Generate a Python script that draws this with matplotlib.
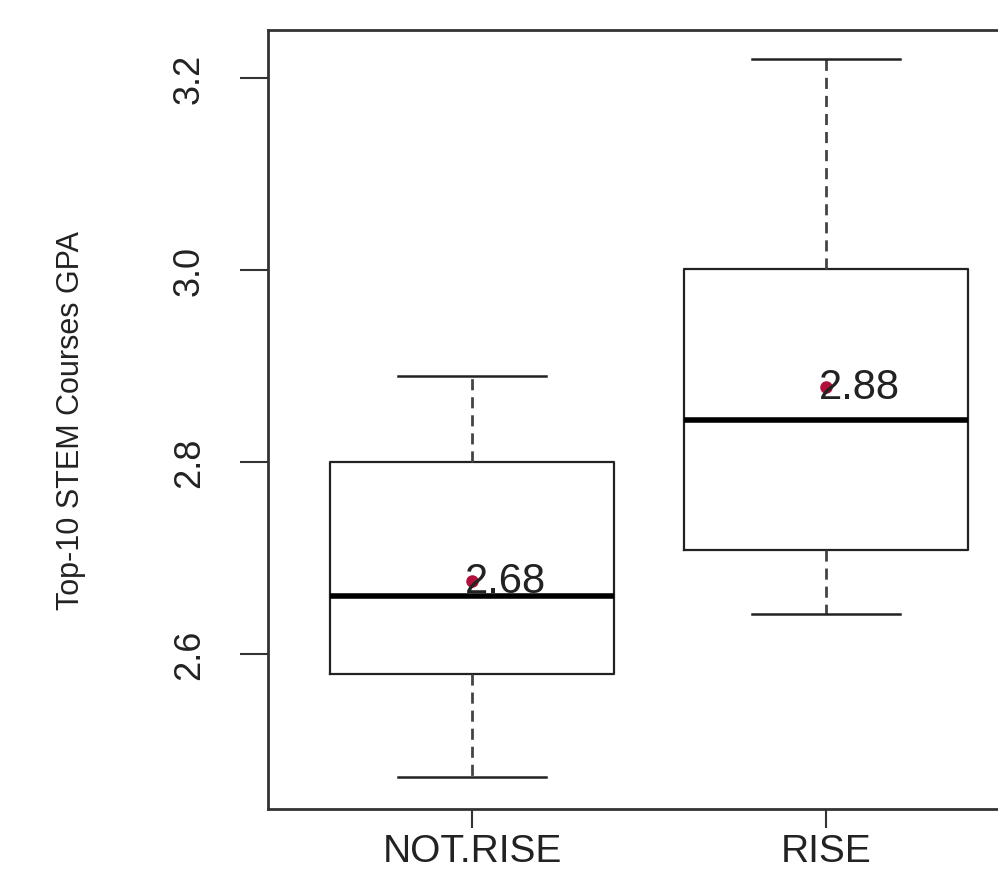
import matplotlib
matplotlib.use("Agg")
import matplotlib.pyplot as plt

# box statistics
groups = ["NOT.RISE", "RISE"]
q1 = [2.579, 2.708]
med = [2.660, 2.844]
q3 = [2.800, 3.001]
whislo = [2.472, 2.642]
whishi = [2.890, 3.220]
means = [2.676, 2.878]
mean_labels = ["2.68", "2.88"]

yticks = [2.6, 2.8, 3.0, 3.2]

fig = plt.figure(figsize=(9.98, 8.78), dpi=100)
ax = fig.add_axes([0.2685, 0.07745, 0.7635, 0.8872])

stats = []
for i in range(len(groups)):
    stats.append(dict(label=groups[i], q1=q1[i], med=med[i], q3=q3[i],
                      whislo=whislo[i], whishi=whishi[i], mean=means[i], fliers=[]))

ax.bxp(stats, positions=[1, 2], widths=0.8, capwidths=0.42, showmeans=True,
       boxprops=dict(color="#222222", linewidth=1.6),
       medianprops=dict(color="black", linewidth=4),
       whiskerprops=dict(color="#444444", linewidth=2, linestyle=(0, (4, 2.5))),
       capprops=dict(color="#222222", linewidth=1.8),
       meanprops=dict(marker="o", markersize=8, markerfacecolor="#b0103a",
                      markeredgecolor="#b0103a"))

for i in range(len(groups)):
    ax.text(i + 1 - 0.02, means[i], mean_labels[i], ha="left", va="center",
            fontsize=30, family="Liberation Sans", color="#222222")

ax.set_xlim(0.4237, 2.5763)
ax.set_ylim(2.4385, 3.25)

ax.set_yticks(yticks)
ax.set_yticklabels([f"{v:.1f}" for v in yticks], rotation=90, va="center",
                   fontsize=26, family="Liberation Sans", color="#222222")
ax.set_xticks([1, 2])
ax.set_xticklabels(groups, fontsize=28, family="Liberation Sans", color="#222222")

ax.tick_params(axis="y", length=20, width=1.5, color="#333333", pad=24)
ax.tick_params(axis="x", length=14, width=1.5, color="#333333", pad=3)

ax.set_ylabel("Top-10 STEM Courses GPA", fontsize=22, family="Liberation Sans",
              color="#222222", labelpad=62)

for s in ax.spines.values():
    s.set_linewidth(2)
    s.set_color("#333333")

fig.savefig("out.png", dpi=100)
